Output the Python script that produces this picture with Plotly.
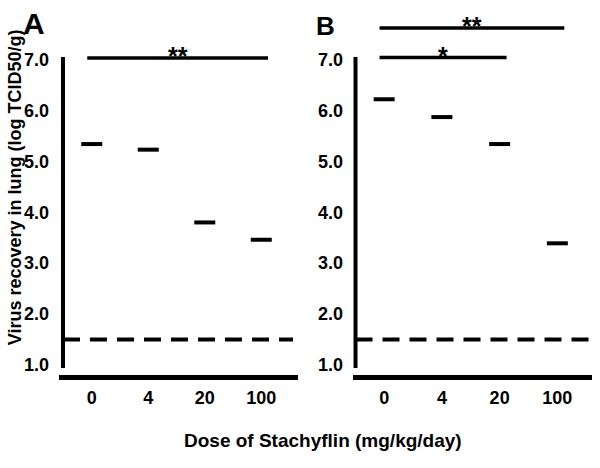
import plotly.graph_objects as go

# ---- data ----
doses = ["0", "4", "20", "100"]
virus_A = [5.34, 5.23, 3.80, 3.46]
virus_B = [6.22, 5.87, 5.34, 3.39]
detection_limit = 1.5
y_ticks = [1.0, 2.0, 3.0, 4.0, 5.0, 6.0, 7.0]
# (from category index, to category index, label, bar height)
sig_A = [(0, 3, "**", 7.03)]
sig_B = [(0, 3, "**", 7.62), (0, 2, "*", 7.04)]

FONT = "Liberation Sans, Arial, sans-serif"
W, H = 600, 468


def px(x):
    return x / W


def py(y):
    return 1 - y / H


fig = go.Figure()
xpos = list(range(len(doses)))

panels = [
    dict(vals=virus_A, xa="x", ya="y", sig=sig_A, xdom=[59, 298], xr=[-0.58, 3.65], yline=0.0167, dash_end=0.979),
    dict(vals=virus_B, xa="x2", ya="y2", sig=sig_B, xdom=[353, 592], xr=[-0.54, 3.60], yline=0.0105, dash_end=0.99),
]

shapes = []
annotations = []
for p in panels:
    fig.add_trace(go.Scatter(
        x=xpos, y=p["vals"], mode="markers", xaxis=p["xa"], yaxis=p["ya"],
        marker=dict(symbol="line-ew", size=15, line=dict(width=4, color="black")),
        showlegend=False, hoverinfo="skip"))
    # y axis line
    shapes.append(dict(type="line", xref=p["xa"] + " domain", yref=p["ya"],
                       x0=p["yline"], x1=p["yline"], y0=0.94, y1=7.05,
                       line=dict(color="black", width=4)))
    # detection limit
    shapes.append(dict(type="line", xref=p["xa"] + " domain", yref=p["ya"],
                       x0=p["yline"], x1=p["dash_end"], y0=detection_limit, y1=detection_limit,
                       line=dict(color="black", width=4, dash="17px,10px")))
    # significance bars
    for (a, b, lab, h) in p["sig"]:
        shapes.append(dict(type="line", xref=p["xa"], yref=p["ya"],
                           x0=a - 0.08, x1=b + 0.12, y0=h, y1=h,
                           line=dict(color="black", width=3.5)))
        annotations.append(dict(x=(a - 0.08 + b + 0.12) / 2, y=h, xref=p["xa"], yref=p["ya"],
                                text=lab, showarrow=False, yanchor="middle", yshift=2,
                                font=dict(family=FONT, size=25, color="black", weight="bold")))

annotations += [
    dict(x=px(34), y=py(24), xref="paper", yref="paper", text="A", showarrow=False,
         xanchor="center", yanchor="middle", font=dict(family=FONT, size=30, color="black", weight="bold")),
    dict(x=px(325.5), y=py(26), xref="paper", yref="paper", text="B", showarrow=False,
         xanchor="center", yanchor="middle", font=dict(family=FONT, size=26, color="black", weight="bold")),
    dict(x=px(15), y=py(190), xref="paper", yref="paper", text="Virus recovery in lung (log TCID50/g)",
         textangle=-90, showarrow=False, xanchor="center", yanchor="middle",
         font=dict(family=FONT, size=18, color="black", weight="bold")),
    dict(x=px(323), y=py(447), xref="paper", yref="paper", text="Dose of Stachyflin (mg/kg/day)",
         showarrow=False, xanchor="center", yanchor="middle",
         font=dict(family=FONT, size=19, color="black", weight="bold")),
]

ydom = [py(373.6), py(24.3)]
layout = dict(
    width=W, height=H, margin=dict(l=0, r=0, t=0, b=0),
    paper_bgcolor="white", plot_bgcolor="white",
    shapes=shapes, annotations=annotations, showlegend=False,
)
for i, p in enumerate(panels):
    sfx = "" if i == 0 else "2"
    layout["xaxis" + sfx] = dict(
        domain=[px(p["xdom"][0]), px(p["xdom"][1])], range=p["xr"],
        anchor="free", position=py(382.5),
        showline=True, linewidth=5, linecolor="black",
        tickvals=xpos, ticktext=doses, ticks="", ticklabelstandoff=3,
        tickfont=dict(family=FONT, size=18, color="black", weight="bold"),
        showgrid=False, zeroline=False, fixedrange=True)
    layout["yaxis" + sfx] = dict(
        domain=ydom, range=[0.94, 7.70], anchor="x" + sfx,
        tickvals=y_ticks, tickformat=".1f", ticks="", ticklabelstandoff=9,
        tickfont=dict(family=FONT, size=18, color="black", weight="bold"),
        showline=False, showgrid=False, zeroline=False, fixedrange=True)

fig.update_layout(**layout)
fig.write_html(
    "out.html",
    config={"displayModeBar": False},
    post_script="document.body.style.margin='0';document.body.style.overflow='hidden';",
)
